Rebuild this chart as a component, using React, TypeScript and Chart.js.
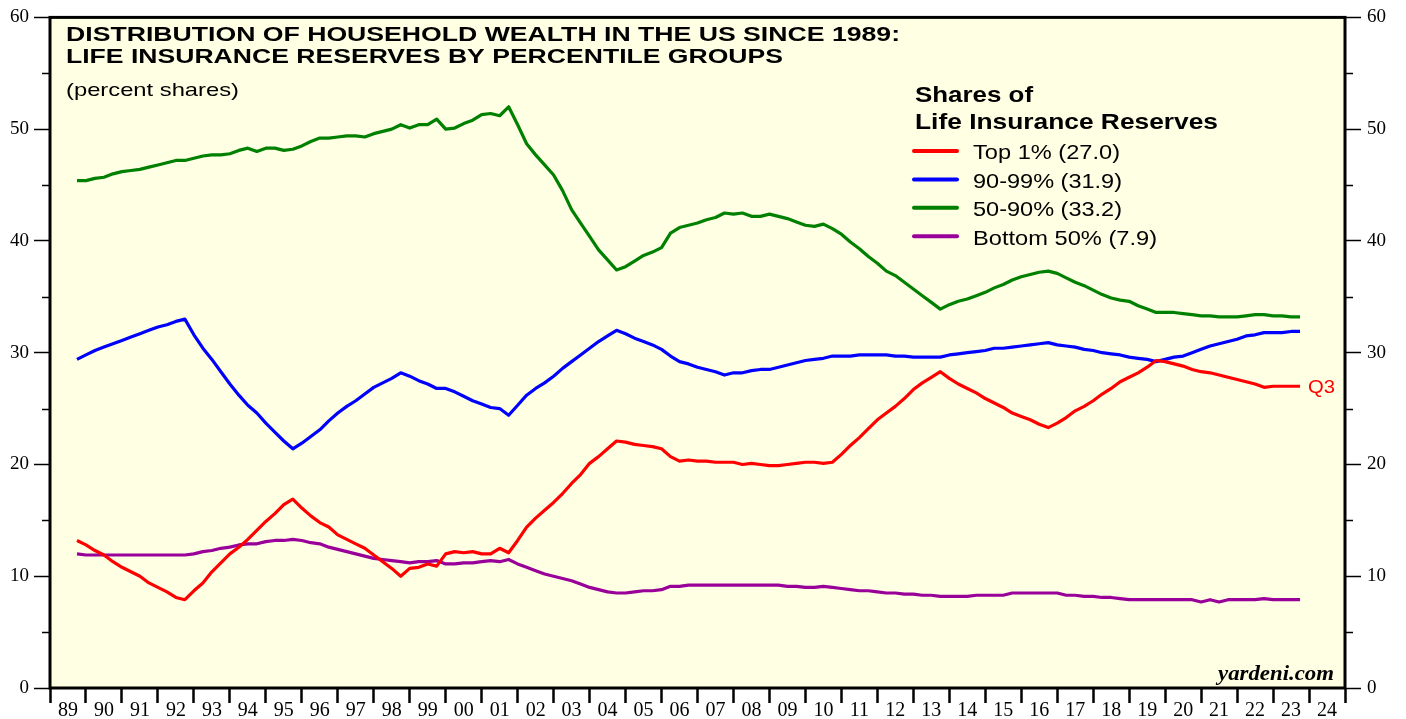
import React, { useEffect, useRef } from 'react';
import { Chart, registerables } from 'chart.js';
Chart.register(...registerables);

// Quarterly data, first observation 1989 Q3, last 2023 Q3
const START_YEAR = 1989;
const START_QUARTER = 3;

const top1 = [
  13.2, 12.8,
  12.3, 11.9, 11.3, 10.8,
  10.4, 10.0, 9.4, 9.0,
  8.6, 8.1, 7.9, 8.7,
  9.4, 10.4, 11.2, 12.0,
  12.6, 13.3, 14.1, 14.9,
  15.6, 16.4, 16.9, 16.1,
  15.4, 14.8, 14.4, 13.7,
  13.3, 12.9, 12.5, 11.9,
  11.3, 10.7, 10.0, 10.7,
  10.8, 11.1, 10.9, 12.0,
  12.2, 12.1, 12.2, 12.0,
  12.0, 12.5, 12.1, 13.2,
  14.4, 15.2, 15.9, 16.6,
  17.4, 18.3, 19.1, 20.1,
  20.7, 21.4, 22.1, 22.0,
  21.8, 21.7, 21.6, 21.4,
  20.7, 20.3, 20.4, 20.3,
  20.3, 20.2, 20.2, 20.2,
  20.0, 20.1, 20.0, 19.9,
  19.9, 20.0, 20.1, 20.2,
  20.2, 20.1, 20.2, 20.9,
  21.7, 22.4, 23.2, 24.0,
  24.6, 25.2, 25.9, 26.7,
  27.3, 27.8, 28.3, 27.7,
  27.2, 26.8, 26.4, 25.9,
  25.5, 25.1, 24.6, 24.3,
  24.0, 23.6, 23.3, 23.7,
  24.2, 24.8, 25.2, 25.7,
  26.3, 26.8, 27.4, 27.8,
  28.2, 28.7, 29.3, 29.2,
  29.0, 28.8, 28.5, 28.3,
  28.2, 28.0, 27.8, 27.6,
  27.4, 27.2, 26.9, 27.0,
  27.0, 27.0, 27.0,
];

const p90to99 = [
  29.4, 29.8,
  30.2, 30.5, 30.8, 31.1,
  31.4, 31.7, 32.0, 32.3,
  32.5, 32.8, 33.0, 31.6,
  30.4, 29.4, 28.3, 27.2,
  26.2, 25.3, 24.6, 23.7,
  22.9, 22.1, 21.4, 21.9,
  22.5, 23.1, 23.9, 24.6,
  25.2, 25.7, 26.3, 26.9,
  27.3, 27.7, 28.2, 27.9,
  27.5, 27.2, 26.8, 26.8,
  26.5, 26.1, 25.7, 25.4,
  25.1, 25.0, 24.4, 25.3,
  26.2, 26.8, 27.3, 27.9,
  28.6, 29.2, 29.8, 30.4,
  31.0, 31.5, 32.0, 31.7,
  31.3, 31.0, 30.7, 30.3,
  29.7, 29.2, 29.0, 28.7,
  28.5, 28.3, 28.0, 28.2,
  28.2, 28.4, 28.5, 28.5,
  28.7, 28.9, 29.1, 29.3,
  29.4, 29.5, 29.7, 29.7,
  29.7, 29.8, 29.8, 29.8,
  29.8, 29.7, 29.7, 29.6,
  29.6, 29.6, 29.6, 29.8,
  29.9, 30.0, 30.1, 30.2,
  30.4, 30.4, 30.5, 30.6,
  30.7, 30.8, 30.9, 30.7,
  30.6, 30.5, 30.3, 30.2,
  30.0, 29.9, 29.8, 29.6,
  29.5, 29.4, 29.2, 29.4,
  29.6, 29.7, 30.0, 30.3,
  30.6, 30.8, 31.0, 31.2,
  31.5, 31.6, 31.8, 31.8,
  31.8, 31.9, 31.9,
];

const p50to90 = [
  45.4, 45.4,
  45.6, 45.7, 46.0, 46.2,
  46.3, 46.4, 46.6, 46.8,
  47.0, 47.2, 47.2, 47.4,
  47.6, 47.7, 47.7, 47.8,
  48.1, 48.3, 48.0, 48.3,
  48.3, 48.1, 48.2, 48.5,
  48.9, 49.2, 49.2, 49.3,
  49.4, 49.4, 49.3, 49.6,
  49.8, 50.0, 50.4, 50.1,
  50.4, 50.4, 50.9, 50.0,
  50.1, 50.5, 50.8, 51.3,
  51.4, 51.2, 52.0, 50.4,
  48.7, 47.7, 46.8, 45.9,
  44.5, 42.8, 41.6, 40.4,
  39.2, 38.3, 37.4, 37.7,
  38.2, 38.7, 39.0, 39.4,
  40.7, 41.2, 41.4, 41.6,
  41.9, 42.1, 42.5, 42.4,
  42.5, 42.2, 42.2, 42.4,
  42.2, 42.0, 41.7, 41.4,
  41.3, 41.5, 41.1, 40.6,
  39.9, 39.3, 38.6, 38.0,
  37.3, 36.9, 36.3, 35.7,
  35.1, 34.5, 33.9, 34.3,
  34.6, 34.8, 35.1, 35.4,
  35.8, 36.1, 36.5, 36.8,
  37.0, 37.2, 37.3, 37.1,
  36.7, 36.3, 36.0, 35.6,
  35.2, 34.9, 34.7, 34.6,
  34.2, 33.9, 33.6, 33.6,
  33.6, 33.5, 33.4, 33.3,
  33.3, 33.2, 33.2, 33.2,
  33.3, 33.4, 33.4, 33.3,
  33.3, 33.2, 33.2,
];

const bottom50 = [
  12.0, 11.9,
  11.9, 11.9, 11.9, 11.9,
  11.9, 11.9, 11.9, 11.9,
  11.9, 11.9, 11.9, 12.0,
  12.2, 12.3, 12.5, 12.6,
  12.8, 12.9, 12.9, 13.1,
  13.2, 13.2, 13.3, 13.2,
  13.0, 12.9, 12.6, 12.4,
  12.2, 12.0, 11.8, 11.6,
  11.5, 11.4, 11.3, 11.2,
  11.3, 11.3, 11.4, 11.1,
  11.1, 11.2, 11.2, 11.3,
  11.4, 11.3, 11.5, 11.1,
  10.8, 10.5, 10.2, 10.0,
  9.8, 9.6, 9.3, 9.0,
  8.8, 8.6, 8.5, 8.5,
  8.6, 8.7, 8.7, 8.8,
  9.1, 9.1, 9.2, 9.2,
  9.2, 9.2, 9.2, 9.2,
  9.2, 9.2, 9.2, 9.2,
  9.2, 9.1, 9.1, 9.0,
  9.0, 9.1, 9.0, 8.9,
  8.8, 8.7, 8.7, 8.6,
  8.5, 8.5, 8.4, 8.4,
  8.3, 8.3, 8.2, 8.2,
  8.2, 8.2, 8.3, 8.3,
  8.3, 8.3, 8.5, 8.5,
  8.5, 8.5, 8.5, 8.5,
  8.3, 8.3, 8.2, 8.2,
  8.1, 8.1, 8.0, 7.9,
  7.9, 7.9, 7.9, 7.9,
  7.9, 7.9, 7.9, 7.7,
  7.9, 7.7, 7.9, 7.9,
  7.9, 7.9, 8.0, 7.9,
  7.9, 7.9, 7.9,
];

const yearLabels = [
  '89', '90', '91', '92', '93', '94', '95', '96', '97', '98', '99', '00',
  '01', '02', '03', '04', '05', '06', '07', '08', '09', '10', '11', '12',
  '13', '14', '15', '16', '17', '18', '19', '20', '21', '22', '23', '24',
];
const X_MIN = 1989;
const X_MAX = 2025;
const Y_MIN = 0;
const Y_MAX = 60;

const seriesNames = ['Top 1% (27.0)', '90-99% (31.9)', '50-90% (33.2)', 'Bottom 50% (7.9)'];
const seriesColors = ['#ff0000', '#0000ff', '#008000', '#990099'];
const seriesValues = [top1, p90to99, p50to90, bottom50];

const titleLines = [
  'DISTRIBUTION OF HOUSEHOLD WEALTH IN THE US SINCE 1989:',
  'LIFE INSURANCE RESERVES BY PERCENTILE GROUPS',
];
const subtitle = '(percent shares)';
const legendTitle = ['Shares of', 'Life Insurance Reserves'];
const lastQuarterLabel = 'Q3';
const sourceLabel = 'yardeni.com';

const SANS = '"Liberation Sans", Arial, Helvetica, sans-serif';
const SERIF = '"Liberation Serif", "Times New Roman", Times, serif';
const BG = '#ffffe4';

function quarterPos(i: number) {
  return START_YEAR + (START_QUARTER + i) / 4;
}

function fitText(ctx: CanvasRenderingContext2D, text: string, x: number, y: number, font: string, width: number, color: string, align: 'left' | 'right' = 'left') {
  ctx.save();
  ctx.font = font;
  ctx.fillStyle = color;
  ctx.textBaseline = 'alphabetic';
  ctx.textAlign = 'left';
  const w = ctx.measureText(text).width;
  const sx = width / w;
  ctx.translate(align === 'left' ? x : x - width, y);
  ctx.scale(sx, 1);
  ctx.fillText(text, 0, 0);
  ctx.restore();
}

const decorPlugin = {
  id: 'decor',
  beforeDraw(chart: any) {
    const { ctx, chartArea: a } = chart;
    ctx.save();
    ctx.fillStyle = '#ffffff';
    ctx.fillRect(0, 0, chart.width, chart.height);
    ctx.fillStyle = BG;
    ctx.fillRect(a.left, a.top, a.right - a.left, a.bottom - a.top);
    ctx.restore();
  },
  afterDraw(chart: any) {
    const { ctx, chartArea: a } = chart;
    const y = chart.scales.y;
    ctx.save();
    // minor ticks
    ctx.strokeStyle = '#000';
    ctx.lineWidth = 1.5;
    for (let v = Y_MIN + 5; v < Y_MAX; v += 10) {
      const py = Math.round(y.getPixelForValue(v)) + 0.5;
      ctx.beginPath();
      ctx.moveTo(a.left - 8, py);
      ctx.lineTo(a.left, py);
      ctx.moveTo(a.right, py);
      ctx.lineTo(a.right + 8, py);
      ctx.stroke();
    }
    // frame
    ctx.lineWidth = 3;
    ctx.strokeRect(a.left, a.top, a.right - a.left, a.bottom - a.top);
    ctx.restore();

    // titles
    fitText(ctx, titleLines[0], 66, 41, `bold 20px ${SANS}`, 834, '#000');
    fitText(ctx, titleLines[1], 66, 63, `bold 20px ${SANS}`, 717, '#000');
    fitText(ctx, subtitle, 66, 96, `19px ${SANS}`, 173, '#000');

    // legend
    fitText(ctx, legendTitle[0], 915, 102, `bold 22px ${SANS}`, 118, '#000');
    fitText(ctx, legendTitle[1], 915, 129, `bold 22px ${SANS}`, 303, '#000');
    const itemWidths = [147, 149, 149, 184];
    chart.data.datasets.forEach((ds: any, i: number) => {
      const cy = 151 + i * 28.4;
      ctx.save();
      ctx.strokeStyle = ds.borderColor;
      ctx.lineWidth = 4;
      ctx.lineCap = 'round';
      ctx.beginPath();
      ctx.moveTo(914, cy);
      ctx.lineTo(957, cy);
      ctx.stroke();
      ctx.restore();
      fitText(ctx, ds.label, 973, cy + 8.3, `21px ${SANS}`, itemWidths[i], '#000');
    });

    // last-quarter marker
    const xs = chart.scales.x;
    const lastIdx = top1.length - 1;
    const lx = xs.getPixelForValue(quarterPos(lastIdx)) + 8;
    const ly = y.getPixelForValue(top1[lastIdx]);
    fitText(ctx, lastQuarterLabel, lx, ly + 7, `19px ${SANS}`, 27, '#ff0000');

    // source
    fitText(ctx, sourceLabel, 1334, 680, `italic bold 20px ${SERIF}`, 116, '#000', 'right');
  },
};

export default function App() {
  const ref = useRef<HTMLCanvasElement | null>(null);

  useEffect(() => {
    if (!ref.current) return;
    const datasets = seriesValues.map((vals, k) => ({
      label: seriesNames[k],
      data: vals.map((v, i) => ({ x: quarterPos(i), y: v })),
      borderColor: seriesColors[k],
      backgroundColor: seriesColors[k],
      borderWidth: 3.2,
      pointRadius: 0,
      tension: 0,
      borderJoinStyle: 'round' as const,
      fill: false,
    }));

    const tickFont = { family: SERIF, size: 19 };
    const yAxis = (position: 'left' | 'right', width: number, padding: number) => ({
      type: 'linear' as const,
      position,
      min: Y_MIN,
      max: Y_MAX,
      ticks: {
        stepSize: 5,
        color: '#000',
        font: tickFont,
        padding,
        callback: (v: any) => (Number(v) % 10 === 0 ? String(v) : ''),
      },
      grid: {
        drawOnChartArea: false,
        drawTicks: true,
        tickLength: 16,
        tickWidth: 1.5,
        tickColor: (c: any) => (c.tick && Number(c.tick.value) % 10 === 0 ? '#000' : 'rgba(0,0,0,0)'),
      },
      border: { display: false },
      afterFit: (s: any) => { s.width = width; },
    });

    const chart = new Chart(ref.current, {
      type: 'line',
      data: { datasets },
      options: {
        animation: false,
        responsive: false,
        devicePixelRatio: 1,
        layout: { padding: { top: 16, left: 0, right: 0, bottom: 0 } },
        plugins: { legend: { display: false }, tooltip: { enabled: false }, title: { display: false } },
        scales: {
          x: {
            type: 'linear',
            min: X_MIN,
            max: X_MAX,
            afterBuildTicks: (s: any) => {
              const t: any[] = [];
              for (let yv = X_MIN; yv <= X_MAX; yv++) {
                t.push({ value: yv });
                if (yv - X_MIN < yearLabels.length) t.push({ value: yv + 0.5 });
              }
              s.ticks = t;
            },
            ticks: {
              autoSkip: false,
              maxRotation: 0,
              color: '#000',
              font: { family: SERIF, size: 20 },
              padding: -4,
              callback: (v: any) => {
                const n = Number(v);
                if (Number.isInteger(n)) return '';
                return yearLabels[Math.floor(n) - X_MIN] ?? '';
              },
            },
            grid: {
              drawOnChartArea: false,
              drawTicks: true,
              tickLength: 15,
              tickWidth: 2.5,
              tickColor: (c: any) => (c.tick && Number.isInteger(Number(c.tick.value)) ? '#000' : 'rgba(0,0,0,0)'),
            },
            border: { display: false },
            afterFit: (s: any) => { s.height = 31; },
          },
          y: yAxis('left', 50, 5),
          y2: yAxis('right', 61, 6),
        },
      },
      plugins: [decorPlugin],
    });
    return () => chart.destroy();
  }, []);

  return (
    <div style={{ position: 'fixed', left: 0, top: 0, width: 1406, height: 719, background: '#fff' }}>
      <canvas ref={ref} width={1406} height={719} style={{ display: 'block', width: 1406, height: 719 }} />
    </div>
  );
}
